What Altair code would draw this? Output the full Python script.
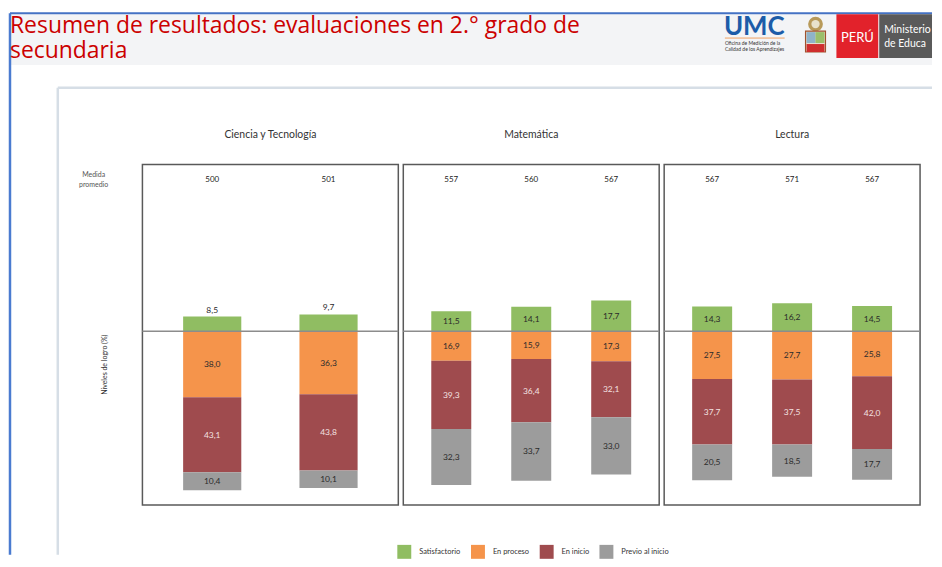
import altair as alt
import pandas as pd

# ---------------- data ----------------
categories = ["Satisfactorio", "En proceso", "En inicio", "Previo al inicio"]
colors = ["#90bd62", "#f5944b", "#9f4b4e", "#9c9c9c"]

subjects = ["Ciencia y Tecnología", "Matemática", "Lectura"]

cyt_years = ["2018", "2019"]
cyt_medida = [500, 501]
cyt_satisfactorio = [8.5, 9.7]
cyt_proceso = [38.0, 36.3]
cyt_inicio = [43.1, 43.8]
cyt_previo = [10.4, 10.1]

mat_years = ["2016", "2018", "2019"]
mat_medida = [557, 560, 567]
mat_satisfactorio = [11.5, 14.1, 17.7]
mat_proceso = [16.9, 15.9, 17.3]
mat_inicio = [39.3, 36.4, 32.1]
mat_previo = [32.3, 33.7, 33.0]

lec_years = ["2016", "2018", "2019"]
lec_medida = [567, 571, 567]
lec_satisfactorio = [14.3, 16.2, 14.5]
lec_proceso = [27.5, 27.7, 25.8]
lec_inicio = [37.7, 37.5, 42.0]
lec_previo = [20.5, 18.5, 17.7]

slide_title = "Resumen de resultados: evaluaciones en 2.° grado de\nsecundaria"
y_title = "Niveles de logro (%)"
medida_title = "Medida\npromedio"

FONT = "Lato"
PANEL_W = 257
PANEL_H = 342


def long_table(years, sat, pro, ini, pre):
    rows = []
    for i, yr in enumerate(years):
        for k, vals in enumerate([sat, pro, ini, pre]):
            v = vals[i]
            rows.append({
                "year": yr,
                "category": categories[k],
                "ord": k,
                "value": v,
                "signed": v if k == 0 else -v,
                "label": f"{v:.1f}".replace(".", ","),
            })
    return pd.DataFrame(rows)


one = pd.DataFrame({"k": [0]})


def rule(x, x2, y, y2, color, width):
    return alt.Chart(one).mark_rule(color=color, strokeWidth=width).encode(
        x=alt.value(x), x2=alt.value(x2), y=alt.value(y), y2=alt.value(y2))


def box(x, x2, y, y2, color, **kw):
    return alt.Chart(one).mark_rect(color=color, **kw).encode(
        x=alt.value(x), x2=alt.value(x2), y=alt.value(y), y2=alt.value(y2))


def dot(x, y, size, color):
    return alt.Chart(one).mark_point(filled=True, color=color, size=size,
                                     opacity=1).encode(
        x=alt.value(x), y=alt.value(y))


def label(text, x, y, **kw):
    return alt.Chart(one).mark_text(**kw).encode(
        x=alt.value(x), y=alt.value(y), text=alt.value(text))


# decorations (slide header, frame) drawn in panel-1 coordinates
decorations = [
    rule(-133, -133, -155, -155, "#ffffff", 0.1),              # anchor
    box(-133, 793, -151, -100, "#f3f4f6"),                       # banner
    rule(-133, 793, -152, -152, "#4472c4", 2),                   # blue top line
    rule(-133, -133, -152, 392, "#4a7bd0", 2.5),                 # blue left line
    label(slide_title, -133, -132, align="left", baseline="alphabetic",
          lineBreak="\n", lineHeight=25, font="Open Sans", fontSize=23,
          color="#cc0000"),
    label("UMC", 584, -130, align="left", baseline="alphabetic", font=FONT,
          fontSize=26, fontWeight="bold", color="#1c5ca8"),
    rule(585, 645, -127, -127, "#f0a060", 1),
    label("Oficina de Medición de la\nCalidad de los Aprendizajes", 585, -120,
          align="left", baseline="alphabetic", lineBreak="\n", lineHeight=6,
          font=FONT, fontSize=5, color="#333333"),
    # emblem (simplified)
    dot(676, -141, 220, "#b89a5a"),
    dot(676, -141, 70, "#e8e2cc"),
    box(666, 686, -134, -113, "#e6e1d3", stroke="#a0522d", strokeWidth=1.2),
    box(667, 685, -121, -113, "#cf2e2e"),
    box(667, 676, -133, -122, "#8fb3c9"),
    box(676, 685, -133, -122, "#9bbf6a"),
    box(697, 739, -151, -107, "#e2222b"),
    label("PERÚ", 718, -123, align="center", baseline="alphabetic", font=FONT,
          fontSize=13, color="#ffffff"),
    box(740, 793, -151, -107, "#5a5a5a"),
    label("Ministerio\nde Educación", 745, -132, align="left",
          baseline="alphabetic", lineBreak="\n", lineHeight=14, font=FONT,
          fontSize=10.5, color="#ffffff", limit=49, ellipsis=" "),
    rule(-85, 793, -77, -77, "#d6dee6", 2.5),                    # frame top
    rule(-85, -85, -77, 392, "#d6dee6", 2.5),                    # frame left
]


def panel(subject, years, medida, sat, pro, ini, pre, first=False):
    df = long_table(years, sat, pro, ini, pre)
    xscale = alt.Scale(paddingInner=0.5, paddingOuter=0.35)
    yscale = alt.Scale(domain=[-100, 96], nice=False, zero=False)
    x_axis = alt.Axis(title=None, labelAngle=0, ticks=False, domain=False,
                      labelPadding=5, labelFontSize=7.5, labelColor="#444444",
                      labelFont=FONT)
    x_main = alt.X("year:N", sort=years, scale=xscale, axis=x_axis)
    x_plain = alt.X("year:N", sort=years, scale=xscale, axis=None)

    stacked = alt.Chart(df).transform_stack(
        stack="signed", groupby=["year"], as_=["y0", "y1"],
        sort=[alt.SortField("ord", order="ascending")],
    ).transform_calculate(mid="(datum.y0 + datum.y1) / 2")

    bars = stacked.mark_bar().encode(
        x=x_main,
        y=alt.Y("y0:Q", scale=yscale, axis=None),
        y2="y1:Q",
        color=alt.Color("category:N",
                        scale=alt.Scale(domain=categories, range=colors),
                        legend=alt.Legend(title=None)),
    )

    zero = alt.Chart(pd.DataFrame({"zero": [0]})).mark_rule(
        color="#8c8c8c", strokeWidth=1.5).encode(
        y=alt.Y("zero:Q", scale=yscale, axis=None))

    inside = stacked.transform_filter(
        "datum.ord > 0 || datum.value >= 10").mark_text(
        font=FONT, fontSize=8.5, baseline="middle").encode(
        x=x_plain,
        y=alt.Y("mid:Q", scale=yscale, axis=None),
        text="label:N",
        color=alt.condition("datum.category == 'En inicio'",
                            alt.value("#f3e0e0"), alt.value("#2b2b2b")),
    )

    outside = stacked.transform_filter(
        "datum.ord == 0 && datum.value < 10").mark_text(
        font=FONT, fontSize=8.5, baseline="middle", dy=-7,
        color="#2b2b2b").encode(
        x=x_plain,
        y=alt.Y("y1:Q", scale=yscale, axis=None),
        text="label:N",
    )

    med = alt.Chart(pd.DataFrame({"year": years, "medida": medida})).mark_text(
        font=FONT, fontSize=8, baseline="middle", color="#222222").encode(
        x=x_plain, y=alt.value(16), text="medida:Q")

    head = label(subject, PANEL_W / 2, -30, align="center", baseline="middle",
                 font=FONT, fontSize=10.5, color="#333333")

    layers = []
    if first:
        layers += decorations
    layers += [bars, zero, inside, outside, med, head]
    if first:
        layers.append(label(medida_title, -49, 11, align="center",
                            baseline="middle", lineBreak="\n", lineHeight=10,
                            font=FONT, fontSize=7, color="#555555"))
        layers.append(label(y_title, -38, 201, align="center",
                            baseline="middle", angle=270, font=FONT,
                            fontSize=7, color="#333333"))

    return alt.layer(*layers).properties(width=PANEL_W, height=PANEL_H)


p1 = panel(subjects[0], cyt_years, cyt_medida, cyt_satisfactorio, cyt_proceso,
           cyt_inicio, cyt_previo, first=True)
p2 = panel(subjects[1], mat_years, mat_medida, mat_satisfactorio, mat_proceso,
           mat_inicio, mat_previo)
p3 = panel(subjects[2], lec_years, lec_medida, lec_satisfactorio, lec_proceso,
           lec_inicio, lec_previo)

chart = alt.hconcat(p1, p2, p3, spacing=5, bounds="flush").properties(
    padding=0
).configure_view(
    stroke="#595959", strokeWidth=1.5
).configure_axis(
    grid=False
).configure_legend(
    orient="none", legendX=256, legendY=382, direction="horizontal",
    symbolType="square", symbolSize=196, symbolStrokeWidth=0,
    symbolOpacity=1, labelFontSize=7.5, labelColor="#333333", labelFont=FONT,
    labelOffset=8, columnPadding=10, padding=0,
)

chart.save("out.html", embed_options={"renderer": "svg", "actions": False})
